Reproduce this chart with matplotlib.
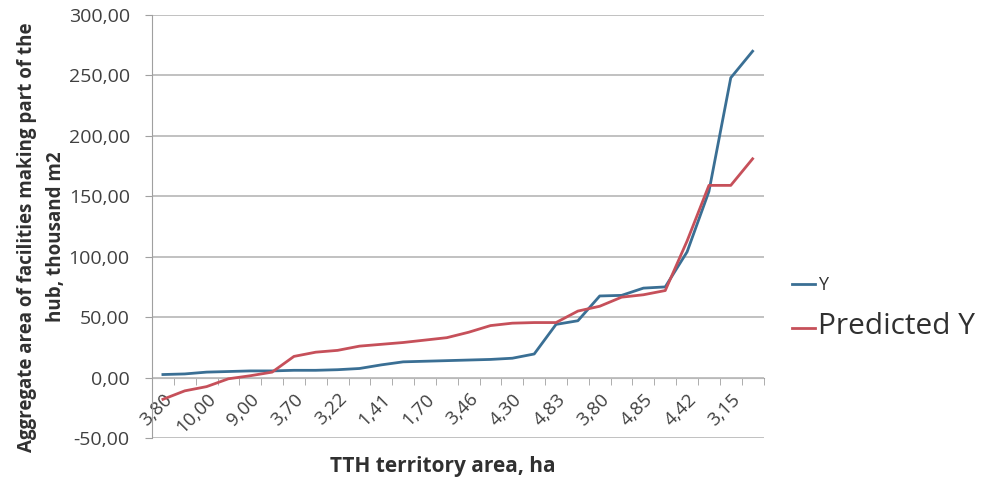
import matplotlib
matplotlib.use("Agg")
import matplotlib.pyplot as plt
import numpy as np

plt.rcParams['font.family'] = ['Open Sans', 'DejaVu Sans']

# values, 28 categories (every second label shown)
y_actual = [2.5, 3, 4.5, 5, 5.5, 5.5, 6, 6, 6.5, 7.5, 10.5, 13, 13.5, 14,
            14.5, 15, 16, 19.5, 44, 47, 67.5, 68, 74, 75, 104, 154, 248, 270]
y_predicted = [-18, -11, -7.5, -1, 1.5, 4.5, 17.5, 21, 22.5, 26, 27.5, 29, 31, 33,
               37.5, 43, 45, 45.5, 45.5, 55, 59, 66.5, 68.5, 72, 113, 159, 159, 181]
shown_labels = ["3,80", "10,00", "9,00", "3,70", "3,22", "1,41", "1,70",
                "3,46", "4,30", "4,83", "3,80", "4,85", "4,42", "3,15"]
y_ticks = [-50, 0, 50, 100, 150, 200, 250, 300]

fig = plt.figure(figsize=(9.96, 4.78), dpi=100)
ax = fig.add_axes([0.1526, 0.0837, 0.614, 0.885])

x = np.arange(len(y_actual))
ax.plot(x, y_actual, color='#3a6f94', lw=2.0, label='Y')
ax.plot(x, y_predicted, color='#c6505a', lw=2.0, label='Predicted Y')

ax.set_xlim(-0.5, len(x) - 0.5)
ax.set_ylim(-50, 300)
ax.set_yticks(y_ticks)
ax.set_yticklabels([("%.2f" % v).replace('.', ',') for v in y_ticks])
ax.yaxis.grid(True, color='#bcbcbc', lw=1.3)
ax.set_axisbelow(True)

for s in ['top', 'right']:
    ax.spines[s].set_visible(False)
ax.spines['bottom'].set_position(('data', 0))
ax.spines['bottom'].set_color('#a0a0a0')
ax.spines['left'].set_color('#a0a0a0')
ax.spines['bottom'].set_zorder(0.5)

ax.set_xticks(x[::2])
ax.set_xticklabels(shown_labels, rotation=45, ha='right', rotation_mode='anchor')
ax.set_xticks(np.arange(-0.5, len(x)), minor=True)
ax.tick_params(axis='x', which='major', length=0, pad=9, labelsize=13.5, labelcolor='#404040')
ax.tick_params(axis='x', which='minor', length=5, color='#a0a0a0')
ax.tick_params(axis='y', length=5, color='#a0a0a0', labelsize=14, labelcolor='#404040', pad=11)

ax.set_ylabel("Aggregate area of facilities making part of the\nhub, thousand m2",
              fontsize=13.5, fontweight='bold', color='#303030', linespacing=1.6)
ax.yaxis.set_label_coords(-0.14, 0.475)
fig.text(0.445, 0.025, "TTH territory area, ha", fontsize=15, fontweight='bold',
         color='#303030', ha='center', va='center')

leg = ax.legend(loc='center left', bbox_to_anchor=(1.02, 0.305), frameon=False,
                handlelength=1.3, handletextpad=0.15, labelspacing=1.0, fontsize=13)
leg.get_texts()[1].set_fontsize(21.5)
for t in leg.get_texts():
    t.set_color('#303030')

fig.savefig("out.png", dpi=100)
